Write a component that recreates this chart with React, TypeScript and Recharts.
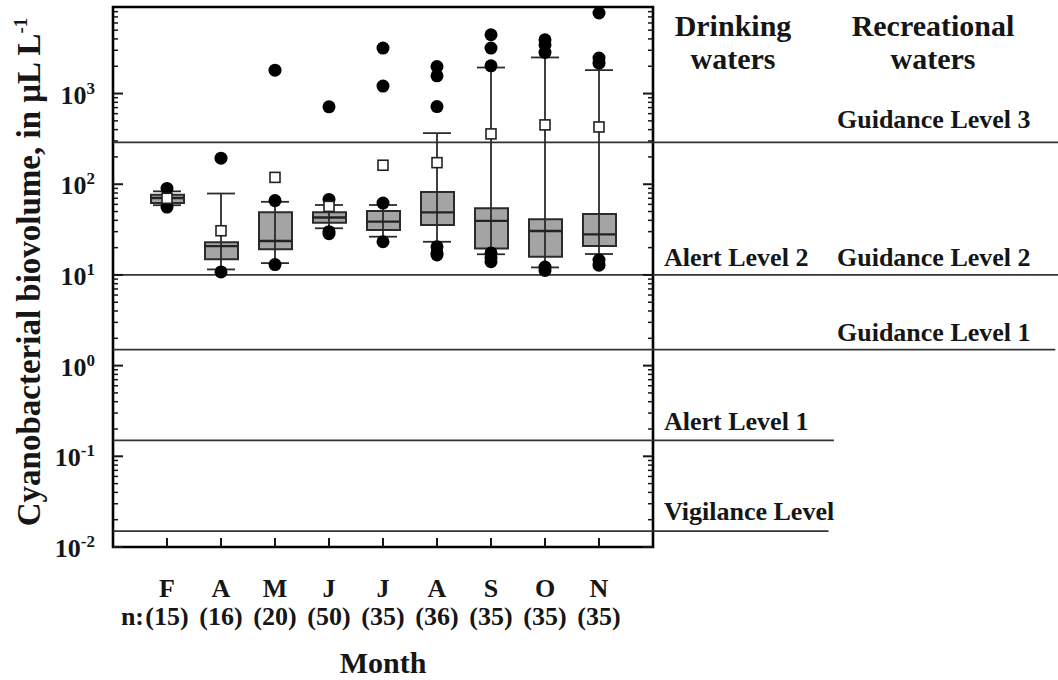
import React from "react"
import {
  ComposedChart,
  XAxis,
  YAxis,
  Bar,
  Scatter,
  ErrorBar,
  ReferenceLine,
  ReferenceArea,
} from "recharts"

const FONT = '"Liberation Serif", "Times New Roman", serif'
const INK = "#161616"

// months and sample sizes
const MONTHS = ["F", "A", "M", "J", "J", "A", "S", "O", "N"]
const N_COUNTS = [15, 16, 20, 50, 35, 36, 35, 35, 35]

// box plot stats, µL/L
const LOW_CAP = [58.7, 11.5, 13.5, 32.7, 26.4, 23.2, 16.9, 12.1, 17]
const Q1 = [62, 14.9, 19.2, 37.7, 31.3, 35.5, 19.6, 15.9, 20.8]
const MEDIAN = [70.6, 20.8, 23.7, 43, 38.7, 49, 39.4, 30.5, 28]
const Q3 = [76.7, 22.9, 49, 49, 50.7, 82, 54.3, 41, 47]
const HIGH_CAP = [83.5, 79, 64, 59, 59, 366, 1936, 2500, 1812]
const MEAN = [70, 30.7, 119, 57, 162, 173, 359, 451, 428]
const OUTLIERS = [
  [90, 56],
  [194, 10.8],
  [1812, 66, 13],
  [713, 68, 30, 28.5],
  [3170, 1208, 62, 23.2],
  [1988, 1567, 719, 20.4, 17.5, 16.6],
  [4450, 3170, 2020, 17.5, 15.5, 14],
  [3920, 3450, 2840, 12.2, 11.2],
  [7730, 2460, 2160, 14.6, 12.8],
]

// guidance / alert levels
const LEVEL_VALUES = [290, 10, 1.5, 0.15, 0.015]
const LEVEL_END = [17.5, 17.5, 17.45, 13.35, 13.25]
const LEVEL_DRINKING = ["", "Alert Level 2", "", "Alert Level 1", "Vigilance Level"]
const LEVEL_RECREATIONAL = ["Guidance Level 3", "Guidance Level 2", "Guidance Level 1", "", ""]
const LEVEL_LABEL_DY = [14, 9, 9, 10, 11]

const MAJOR_TICKS = [0.01, 0.1, 1, 10, 100, 1000]
const MINOR_STEPS = [2, 3, 4, 5, 6, 7, 8, 9]
const Y_TICKS = [
  ...MAJOR_TICKS,
  ...MAJOR_TICKS.flatMap((m) => MINOR_STEPS.map((s) => +(m * s).toPrecision(3))).filter((v) => v < 9000),
]
const X_TICKS = [1, 2, 3, 4, 5, 6, 7, 8, 9]

const DRINK_X = 664
const REC_X = 837

const table = MONTHS.map((m, i) => ({
  x: i + 1,
  month: m,
  median: MEDIAN[i],
  box: [Q1[i], Q3[i]],
  whisker: [MEDIAN[i] - LOW_CAP[i], HIGH_CAP[i] - MEDIAN[i]],
}))
const meanPoints = MEAN.map((v, i) => ({ x: i + 1, y: v }))
const outlierPoints = OUTLIERS.flatMap((vals, i) => vals.map((v) => ({ x: i + 1, y: v })))

const txt = { fontFamily: FONT, fontWeight: 700, fill: INK }

// eslint-disable-next-line @typescript-eslint/no-explicit-any
const LeftTick = ({ x, y, payload }: any) => {
  const major = MAJOR_TICKS.includes(payload.value)
  const exp = Math.round(Math.log10(payload.value))
  return (
    <g>
      <line x1={x} x2={x + (major ? 10 : 5)} y1={y} y2={y} stroke={INK} strokeWidth={major ? 2 : 1.5} />
      {major && (
        <text x={x - 18} y={y + 10} textAnchor="end" fontSize={26} {...txt}>
          10
          <tspan dy={-10} fontSize={17}>
            {exp}
          </tspan>
        </text>
      )}
    </g>
  )
}

// eslint-disable-next-line @typescript-eslint/no-explicit-any
const RightTick = ({ x, y, payload }: any) => {
  const major = MAJOR_TICKS.includes(payload.value)
  return <line x1={x} x2={x - (major ? 10 : 5)} y1={y} y2={y} stroke={INK} strokeWidth={major ? 2 : 1.5} />
}

// eslint-disable-next-line @typescript-eslint/no-explicit-any
const MonthTick = ({ x, y, payload }: any) => {
  const i = payload.value - 1
  return (
    <g>
      <line x1={x} x2={x} y1={y} y2={y - 9} stroke={INK} strokeWidth={2} />
      <text x={x} y={y + 50} textAnchor="middle" fontSize={26} {...txt}>
        {MONTHS[i]}
      </text>
      <text x={x} y={y + 78} textAnchor="middle" fontSize={26} {...txt}>
        ({N_COUNTS[i]})
      </text>
      {i === 0 && (
        <text x={x - 23} y={y + 78} textAnchor="end" fontSize={26} {...txt}>
          n:
        </text>
      )}
    </g>
  )
}

// eslint-disable-next-line @typescript-eslint/no-explicit-any
const MedianShape = ({ cx, cy }: any) => (
  <line x1={cx - 16.5} x2={cx + 16.5} y1={cy} y2={cy} stroke="#222" strokeWidth={2.4} />
)
// eslint-disable-next-line @typescript-eslint/no-explicit-any
const DotShape = ({ cx, cy }: any) => <circle cx={cx} cy={cy} r={6.5} fill="#000" />
// eslint-disable-next-line @typescript-eslint/no-explicit-any
const MeanShape = ({ cx, cy }: any) => (
  <rect x={cx - 5} y={cy - 5} width={10} height={10} fill="#fff" stroke="#222" strokeWidth={1.6} />
)
const Nothing = () => <g />

// eslint-disable-next-line @typescript-eslint/no-explicit-any
const levelLabel = (i: number) => ({ viewBox }: any) => (
  <g>
    {LEVEL_DRINKING[i] && (
      <text x={DRINK_X} y={viewBox.y - LEVEL_LABEL_DY[i]} fontSize={26} {...txt}>
        {LEVEL_DRINKING[i]}
      </text>
    )}
    {LEVEL_RECREATIONAL[i] && (
      <text x={REC_X} y={viewBox.y - LEVEL_LABEL_DY[i]} fontSize={26} {...txt}>
        {LEVEL_RECREATIONAL[i]}
      </text>
    )}
  </g>
)

export default function App() {
  return (
    <div style={{ position: "absolute", left: 0, top: 0, background: "#fff" }}>
      <ComposedChart width={1058} height={680} data={table} margin={{ top: 7, right: 0, bottom: 0, left: 0 }}>
        <XAxis
          type="number"
          dataKey="x"
          domain={[0, 10]}
          ticks={X_TICKS}
          interval={0}
          tickSize={0}
          tickMargin={0}
          axisLine={false}
          height={133}
          tick={<MonthTick />}
          // eslint-disable-next-line @typescript-eslint/no-explicit-any
          label={({ viewBox }: any) => (
            <text x={viewBox.x + viewBox.width / 2} y={viewBox.y + viewBox.height - 7} textAnchor="middle" fontSize={30} {...txt}>
              Month
            </text>
          )}
        />
        <YAxis
          yAxisId="left"
          type="number"
          scale="log"
          domain={[0.01, 9000]}
          allowDataOverflow
          ticks={Y_TICKS}
          interval={0}
          tickSize={0}
          tickMargin={0}
          axisLine={false}
          width={113}
          tick={<LeftTick />}
          // eslint-disable-next-line @typescript-eslint/no-explicit-any
          label={({ viewBox }: any) => {
            const cx = 40
            const cy = viewBox.y + viewBox.height / 2 - 5
            return (
              <text x={cx} y={cy} transform={`rotate(-90 ${cx} ${cy})`} textAnchor="middle" fontSize={33} {...txt}>
                Cyanobacterial biovolume, in μL L
                <tspan dy={-13} fontSize={19}>
                  -1
                </tspan>
              </text>
            )
          }}
        />
        <YAxis
          yAxisId="right"
          orientation="right"
          type="number"
          scale="log"
          domain={[0.01, 9000]}
          allowDataOverflow
          ticks={Y_TICKS}
          interval={0}
          tickSize={0}
          tickMargin={0}
          axisLine={false}
          width={405}
          tick={<RightTick />}
          // eslint-disable-next-line @typescript-eslint/no-explicit-any
          label={({ viewBox }: any) => (
            <g>
              <text x={viewBox.x + 80} y={viewBox.y + 29} textAnchor="middle" fontSize={30} {...txt}>
                Drinking
              </text>
              <text x={viewBox.x + 80} y={viewBox.y + 62} textAnchor="middle" fontSize={30} {...txt}>
                waters
              </text>
              <text x={viewBox.x + 280} y={viewBox.y + 29} textAnchor="middle" fontSize={30} {...txt}>
                Recreational
              </text>
              <text x={viewBox.x + 280} y={viewBox.y + 62} textAnchor="middle" fontSize={30} {...txt}>
                waters
              </text>
            </g>
          )}
        />

        {LEVEL_VALUES.map((v, i) => (
          <ReferenceLine
            key={`lvl-${i}`}
            yAxisId="left"
            segment={[
              { x: 0, y: v },
              { x: LEVEL_END[i], y: v },
            ]}
            ifOverflow="visible"
            stroke="#333"
            strokeWidth={1.8}
            label={levelLabel(i)}
          />
        ))}

        <Scatter yAxisId="left" data={table} dataKey="median" shape={<Nothing />} isAnimationActive={false}>
          <ErrorBar dataKey="whisker" direction="y" width={14} stroke="#2b2b2b" strokeWidth={1.8} />
        </Scatter>
        <Bar
          yAxisId="left"
          dataKey="box"
          barSize={33}
          fill="#a4a4a4"
          stroke="#2b2b2b"
          strokeWidth={2}
          isAnimationActive={false}
        />
        <Scatter yAxisId="left" data={table} dataKey="median" shape={<MedianShape />} isAnimationActive={false} />
        <Scatter yAxisId="left" data={outlierPoints} dataKey="y" shape={<DotShape />} isAnimationActive={false} />
        <Scatter yAxisId="left" data={meanPoints} dataKey="y" shape={<MeanShape />} isAnimationActive={false} />

        <ReferenceArea
          yAxisId="left"
          x1={0}
          x2={10}
          y1={0.01}
          y2={9000}
          fill="none"
          fillOpacity={0}
          stroke="#000"
          strokeWidth={2.6}
          ifOverflow="visible"
        />
      </ComposedChart>
    </div>
  )
}
